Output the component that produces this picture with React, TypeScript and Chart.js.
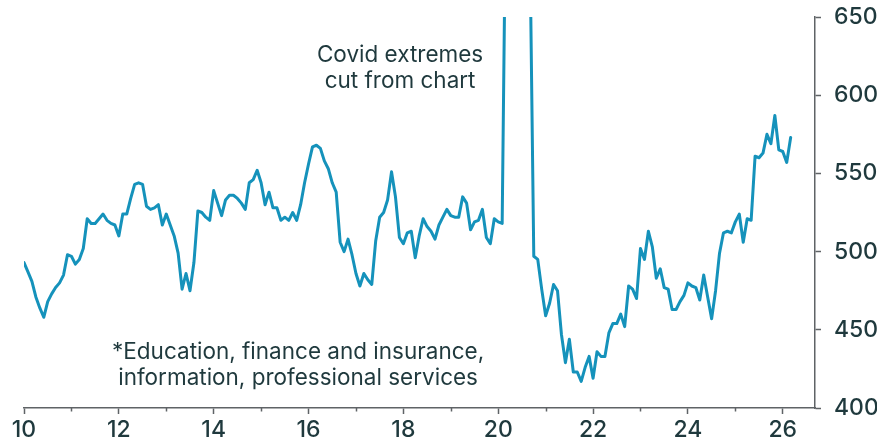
import React, { useEffect, useRef } from "react";
import { Chart, registerables } from "chart.js";

Chart.register(...registerables);

// Monthly series, Jan 2010 .. Mar 2026 (index 0 = Jan 2010)
const START_YEAR = 2010;
const serviceValues: number[] = [
  // 2010
  493, 487, 481, 471, 464, 458, 468, 473, 477, 480, 485, 498,
  // 2011
  497, 492, 495, 502, 521, 518, 518, 521, 524, 520, 518, 517,
  // 2012
  510, 524, 524, 534, 543, 544, 543, 529, 527, 528, 530, 517,
  // 2013
  524, 517, 510, 499, 476, 486, 475, 493, 526, 525, 522, 520,
  // 2014
  539, 531, 523, 533, 536, 536, 534, 531, 527, 544, 546, 552,
  // 2015
  544, 530, 538, 528, 528, 520, 522, 520, 525, 520, 530, 544,
  // 2016
  556, 567, 568, 566, 558, 553, 544, 538, 506, 500, 508, 498,
  // 2017
  486, 478, 486, 482, 479, 507, 522, 525, 533, 551, 535, 509,
  // 2018
  505, 512, 513, 496, 510, 521, 516, 513, 508, 517, 522, 527,
  // 2019
  523, 522, 522, 535, 531, 514, 519, 520, 527, 509, 505, 521,
  // 2020
  519, 518, 750, 1100, 1000, 900, 850, 780, 700, 497, 495, 476,
  // 2021
  459, 467, 479, 475, 447, 429, 444, 423, 423, 417, 426, 433,
  // 2022
  419, 436, 433, 433, 448, 454, 454, 460, 452, 478, 476, 470,
  // 2023
  502, 495, 513, 503, 483, 489, 477, 476, 463, 463, 468, 472,
  // 2024
  480, 478, 477, 469, 485, 471, 457, 475, 499, 512, 513, 512,
  // 2025
  519, 524, 506, 521, 520, 561, 560, 563, 575, 569, 587, 565,
  // 2026
  564, 557, 573,
];

const xTickYears: number[] = [2010, 2012, 2014, 2016, 2018, 2020, 2022, 2024, 2026];
const xMinorYears: number[] = [2011, 2013, 2015, 2017, 2019, 2021, 2023, 2025];
const yTicks: number[] = [400, 450, 500, 550, 600, 650];

const covidNote: string[] = ["Covid extremes", "cut from chart"];
const footNote: string[] = ["*Education, finance and insurance,", "information, professional services"];

const LINE_COLOR = "#1592bb";
const TEXT_COLOR = "#1f393d";
const AXIS_COLOR = "#5f6366";
const FONT_FAMILY = "Inter, 'DejaVu Sans', sans-serif";

export default function App() {
  const canvasRef = useRef<HTMLCanvasElement | null>(null);

  useEffect(() => {
    const canvas = canvasRef.current;
    if (!canvas) return;

    const points = serviceValues.map((v, i) => ({ x: START_YEAR + i / 12, y: v }));

    const extrasPlugin = {
      id: "extras",
      afterDraw(chart: any) {
        const ctx = chart.ctx as CanvasRenderingContext2D;
        const xs = chart.scales.x;
        const ys = chart.scales.y;
        ctx.save();
        // minor ticks on odd years
        ctx.strokeStyle = AXIS_COLOR;
        ctx.lineWidth = 1.5;
        for (const yr of xMinorYears) {
          const px = Math.round(xs.getPixelForValue(yr)) + 0.5;
          ctx.beginPath();
          ctx.moveTo(px, chart.chartArea.bottom);
          ctx.lineTo(px, chart.chartArea.bottom + 3.5);
          ctx.stroke();
        }
        // annotations
        ctx.fillStyle = TEXT_COLOR;
        ctx.font = `400 22.5px ${FONT_FAMILY}`;
        ctx.textAlign = "center";
        ctx.textBaseline = "alphabetic";
        const cx = xs.getPixelForValue(2017.93);
        const cy = ys.getPixelForValue(621.4);
        covidNote.forEach((t, i) => ctx.fillText(t, cx, cy + i * 26));
        const fx = xs.getPixelForValue(2015.78);
        const fy = ys.getPixelForValue(431.2);
        footNote.forEach((t, i) => ctx.fillText(t, fx, fy + i * 26));
        ctx.restore();
      },
    };

    const chart = new Chart(canvas, {
      type: "line",
      data: {
        datasets: [
          {
            data: points,
            borderColor: LINE_COLOR,
            borderWidth: 3,
            pointRadius: 0,
            tension: 0,
            borderJoinStyle: "round",
            borderCapStyle: "round",
            fill: false,
          },
        ],
      },
      options: {
        animation: false,
        responsive: false,
        devicePixelRatio: 1,
        layout: { padding: { left: 24, top: 17, right: 0, bottom: 0 } },
        plugins: {
          legend: { display: false },
          tooltip: { enabled: false },
        },
        scales: {
          x: {
            type: "linear",
            min: START_YEAR,
            max: 2026.68,
            afterFit: (scale: any) => {
              scale.height = 35;
            },
            afterBuildTicks: (scale: any) => {
              scale.ticks = xTickYears.map((v) => ({ value: v }));
            },
            ticks: {
              includeBounds: false,
              stepSize: 2,
              maxRotation: 0,
              autoSkip: false,
              padding: 2,
              color: TEXT_COLOR,
              font: { family: FONT_FAMILY, size: 23, weight: 500 },
              callback: (v: any) => String(Number(v) - 2000),
            },
            grid: {
              drawOnChartArea: false,
              drawTicks: true,
              tickLength: 6,
              tickColor: AXIS_COLOR,
              tickWidth: 1.5,
            },
            border: { display: true, color: AXIS_COLOR, width: 1.5 },
          },
          y: {
            position: "right",
            min: 400,
            max: 650,
            afterFit: (scale: any) => {
              scale.width = 62;
              scale.paddingTop = 0;
              scale.paddingBottom = 0;
            },
            afterBuildTicks: (scale: any) => {
              scale.ticks = yTicks.map((v) => ({ value: v }));
            },
            ticks: {
              stepSize: 50,
              padding: 13,
              color: TEXT_COLOR,
              font: { family: FONT_FAMILY, size: 23, weight: 500 },
            },
            grid: {
              drawOnChartArea: false,
              drawTicks: true,
              tickLength: 6,
              tickColor: AXIS_COLOR,
              tickWidth: 1.5,
            },
            border: { display: true, color: AXIS_COLOR, width: 1.5 },
          },
        },
      },
      plugins: [extrasPlugin],
    } as any);

    return () => chart.destroy();
  }, []);

  return (
    <div style={{ position: "absolute", left: 0, top: 0, width: 877, height: 443, background: "#fff" }}>
      <canvas ref={canvasRef} width={877} height={443} style={{ display: "block" }} />
    </div>
  );
}
